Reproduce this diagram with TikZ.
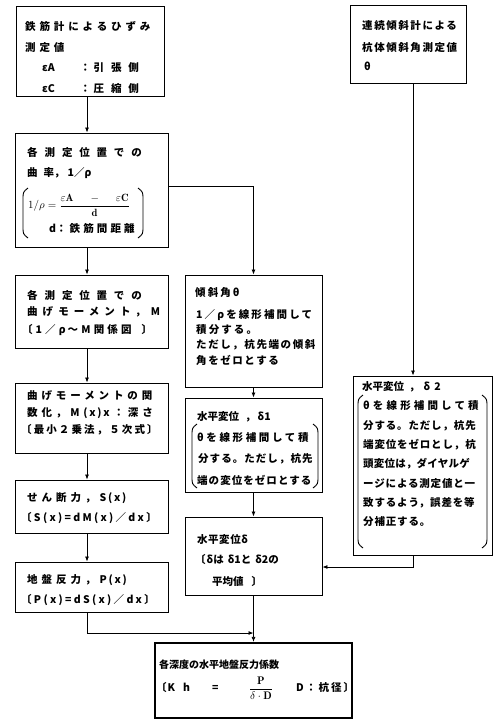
\documentclass[tikz,border=0pt]{standalone}
\usepackage{amsmath}
\usepackage{fontspec}
\newfontfamily\jp{Noto Sans CJK JP}
\usetikzlibrary{arrows.meta}
\newcommand\ls[1]{\addfontfeature{LetterSpace=#1}}
\tikzset{
  box/.style={draw, line width=0.9pt, inner sep=0pt},
  hbox/.style={draw, line width=2.2pt, inner sep=0pt},
  tl/.style={anchor=west, inner sep=0pt, font=\jp\bfseries\fontsize{10.5}{12}\selectfont},
  mth/.style={inner sep=0pt, font=\fontsize{10.5}{12}\selectfont},
  arr/.style={line width=0.8pt, -{Latex[length=5pt,width=4pt]}},
  brk/.style={line width=0.9pt},
}
\begin{document}
\begin{tikzpicture}[x=1pt,y=-1pt]
\useasboundingbox (0,0) rectangle (499,721);
% boxes
\node[box, minimum width=148pt, minimum height=90pt] (A) at (90,51) {};
\node[box, minimum width=116pt, minimum height=78pt] (B) at (408,44) {};
\node[box, minimum width=153pt, minimum height=114pt] (C) at (91.5,190) {};
\node[box, minimum width=153pt, minimum height=73pt] (D) at (91.5,311.5) {};
\node[box, minimum width=153pt, minimum height=70pt] (E) at (91.5,418) {};
\node[box, minimum width=153pt, minimum height=53pt] (F) at (91.5,506.5) {};
\node[box, minimum width=153pt, minimum height=50pt] (G) at (91.5,587) {};
\node[box, minimum width=137pt, minimum height=112pt] (I) at (253.5,331) {};
\node[box, minimum width=137pt, minimum height=94pt] (J) at (253.5,445) {};
\node[box, minimum width=137pt, minimum height=78pt] (K) at (253.5,556) {};
\node[box, minimum width=139pt, minimum height=179pt] (R) at (422.5,465.5) {};
\node[hbox, minimum width=197pt, minimum height=75pt] (H) at (253.5,680.5) {};
% text A
\node[tl] (a1) at (25,26) {\ls{37}鉄筋計によるひずみ};
\node[tl] (a2) at (25,48) {\ls{37}測定値};
\node[tl] (a3) at (42,68) {\makebox[38pt][l]{εA}：\hspace{3pt}{\ls{65}引張側}};
\node[tl] (a4) at (42,88) {\makebox[38pt][l]{εC}：\hspace{3pt}{\ls{65}圧縮側}};
% text B
\node[tl] (b1) at (362,26) {\ls{15}連続傾斜計による};
\node[tl] (b2) at (362,48) {\ls{15}杭体傾斜角測定値};
\node[tl] (b3) at (364,66) {θ};
% text C
\node[tl] (c1) at (27,152) {\ls{65}各\hspace{7pt}測定位置での};
\node[tl] (c2) at (27,173) {{\ls{65}曲\hspace{6pt}率}，\hspace{3pt}1／ρ};
\node[mth, anchor=west] (c3) at (28,205) {$1/\rho=\dfrac{\makebox[68pt]{$\varepsilon\mathbf{A}$\hfill$-$\hfill$\varepsilon\mathbf{C}$}}{\mathbf{d}}$};
\node[tl] (c4) at (49,228) {d：\hspace{3pt}{\ls{30}鉄筋間距離}};
\draw[brk] (28,188) .. controls (23,192) .. (23,200) -- (23,226) .. controls (23,234) .. (28,238);
\draw[brk] (138,188) .. controls (143,192) .. (143,200) -- (143,226) .. controls (143,234) .. (138,238);
% text D
\node[tl] (d1) at (27,295) {\ls{65}各\hspace{7pt}測定位置での};
\node[tl] (d2) at (27,312) {\ls{48}曲げモーメント，M};
\node[tl] (d3) at (22,330) {\ls{30}〔\hspace{3pt}1／ρ\hspace{2pt}～M関係図\hspace{10pt}〕};
% text E
\node[tl] (e1) at (27,396) {\ls{37}曲げモーメントの関};
\node[tl] (e2) at (27,413) {\ls{37}数化，M(\,x\,)\,x：深さ};
\node[tl] (e3) at (21,430) {\ls{20}〔最小２乗法，５次式〕};
% text F
\node[tl] (f1) at (27,498) {\ls{38}せん断力，S\,(\,x\,)};
\node[tl] (f2) at (21,518) {\ls{22}〔S(x)=dM(x)／dx〕};
% text G
\node[tl] (g1) at (27,580) {\ls{38}地盤反力，P\,(\,x\,)};
\node[tl] (g2) at (21,600) {\ls{22}〔P(x)=dS(x)／dx〕};
% text I
\node[tl] (i1) at (195,293) {\ls{20}傾斜角θ};
\node[tl] (i2) at (196,315) {\ls{20}1／ρを線形補間して};
\node[tl] (i3) at (196,330) {\ls{20}積分する。};
\node[tl] (i4) at (196,345) {\ls{15}ただし，杭先端の傾斜};
\node[tl] (i5) at (196,360) {\ls{15}角をゼロとする};
% text J
\node[tl] (j1) at (197,417) {水平変位\hspace{6pt}，\hspace{2pt}δ1};
\node[tl] (j2) at (197,438) {\ls{25}θを線形補間して積};
\node[tl] (j3) at (198,459) {\ls{10}分する。ただし，杭先};
\node[tl] (j4) at (197,480) {\ls{10}端の変位をゼロとする};
\draw[brk] (197,424) .. controls (192,428) .. (192,436) -- (192,476) .. controls (192,484) .. (197,488);
\draw[brk] (313,424) .. controls (318,428) .. (318,436) -- (318,476) .. controls (318,484) .. (313,488);
% text K
\node[tl] (k1) at (197,540) {\ls{5}水平変位δ};
\node[tl] (k2) at (195,560) {〔\hspace{1pt}δは\hspace{4pt}δ1と\hspace{4pt}δ2の};
\node[tl] (k3) at (212,582) {平均値\hspace{8pt}〕};
% text R
\node[tl] (r1) at (362,387) {水平変位\hspace{5pt}，\hspace{4pt}δ\hspace{4pt}2};
\node[tl] (r2) at (363,406) {\ls{30}θを線形補間して積};
\node[tl] (r3) at (363,426) {\ls{8}分する。ただし，杭先};
\node[tl] (r4) at (363,445) {\ls{8}端変位をゼロとし，杭};
\node[tl] (r5) at (363,464) {\ls{2}頭変位は，ダイヤルゲ};
\node[tl] (r6) at (363,484) {\ls{8}ージによる測定値と一};
\node[tl] (r7) at (363,503) {\ls{8}致するよう，誤差を等};
\node[tl] (r8) at (363,522) {\ls{8}分補正する。};
\draw[brk] (363,395) .. controls (358,399) .. (358,407) -- (358,536) .. controls (358,544) .. (363,548);
\draw[brk] (482,395) .. controls (487,399) .. (487,407) -- (487,536) .. controls (487,544) .. (482,548);
% text H
\node[tl, font=\jp\bfseries\fontsize{10}{12}\selectfont] (h1) at (159,665) {各深度の水平地盤反力係数};
\node[tl] (h2) at (156,688) {〔\hspace{1pt}K\hspace{8pt}h\hspace{22pt}=};
\node[mth, font=\fontsize{11}{12}\selectfont] (h3) at (261,688) {$\dfrac{\mathbf{P}}{\delta\cdot\mathbf{D}}$};
\node[tl] (h4) at (296,688) {\ls{20}D：杭径\hspace{2pt}〕};
% connectors
\coordinate (xl) at (87,0);
\coordinate (xr) at (413,0);
\coordinate (gj) at (253.5,633);
\draw[arr] (A.south -| xl) -- (C.north -| xl);
\draw[arr] (C.south -| xl) -- (D.north -| xl);
\draw[arr] (D.south -| xl) -- (E.north -| xl);
\draw[arr] (E.south -| xl) -- (F.north -| xl);
\draw[arr] (F.south -| xl) -- (G.north -| xl);
\draw[arr] (G.south -| xl) |- (gj);
\draw[arr] (K.south) -- (H.north);
\draw[arr] ([yshift=4pt]C.east) -| (I.north);
\draw[arr] (I.south) -- (J.north);
\draw[arr] (J.south) -- (K.north);
\draw[arr] (B.south -| xr) -- (R.north -| xr);
\draw[arr] (R.south -| xr) |- ([yshift=-11pt]K.east);
\end{tikzpicture}
\end{document}
